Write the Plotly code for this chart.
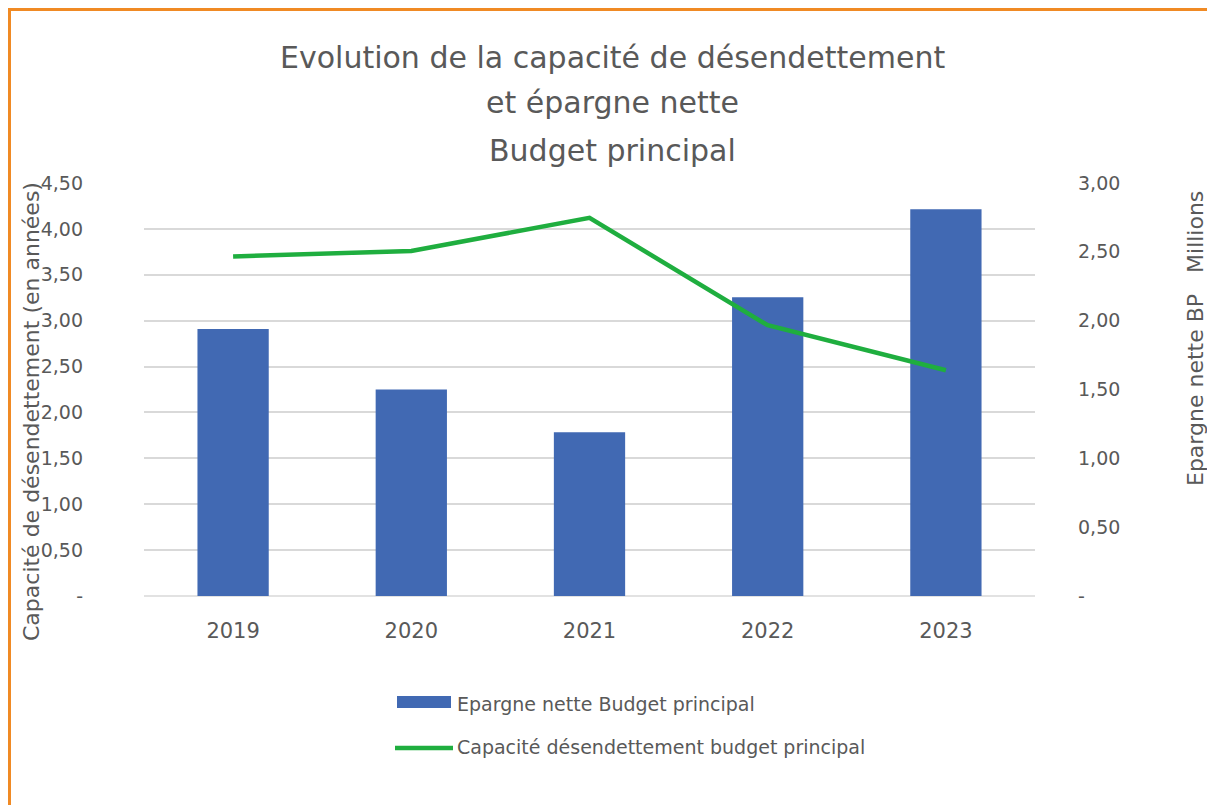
import plotly.graph_objects as go

years = ["2019", "2020", "2021", "2022", "2023"]
epargne_nette = [1.94, 1.50, 1.19, 2.17, 2.81]          # Millions (right axis)
capacite_desendettement = [3.70, 3.76, 4.12, 2.95, 2.46]  # years (left axis)

left_ticks = [0, 0.5, 1, 1.5, 2, 2.5, 3, 3.5, 4, 4.5]
left_labels = ["-", "0,50", "1,00", "1,50", "2,00", "2,50", "3,00", "3,50", "4,00", "4,50"]
right_ticks = [0, 0.5, 1, 1.5, 2, 2.5, 3]
right_labels = ["-", "0,50", "1,00", "1,50", "2,00", "2,50", "3,00"]

title_lines = ["Evolution de la capacité de désendettement", "et épargne nette", "Budget principal"]
bar_name = "Epargne nette Budget principal"
line_name = "Capacité désendettement budget principal"
left_title = "Capacité de désendettement (en années)"
right_title = "Epargne nette BP   Millions"

FONT = "'DejaVu Sans', sans-serif"
GRAY = "#595959"
BLUE = "#4169b3"
GREEN = "#1fae3f"
ORANGE = "#f08a24"

# figure size (page body adds an 8px offset)
W, H = 1207, 797
L, R, T, B = 136, 180, 175, 209
pw, ph = W - L - R, H - T - B


def px_x(p):
    return (p - L) / pw


def px_y(p):
    return (H - B - p) / ph


fig = go.Figure()
# bars on the primary (right-side) axis so the line on the overlaying axis is drawn on top
fig.add_trace(go.Bar(
    x=years, y=epargne_nette, name=bar_name,
    marker=dict(color=BLUE, line=dict(width=0)), width=0.4, yaxis="y",
    showlegend=False,
))
fig.add_trace(go.Scatter(
    x=years, y=capacite_desendettement, name=line_name,
    mode="lines", line=dict(color=GREEN, width=4.5), yaxis="y2",
    showlegend=False,
))

annotations = []
for txt, yy in zip(title_lines, [50, 95, 142]):
    annotations.append(dict(
        text=txt, xref="paper", yref="paper", x=px_x(604), y=px_y(yy),
        xanchor="center", yanchor="middle", showarrow=False,
        font=dict(family=FONT, size=30, color=GRAY),
    ))
annotations += [
    dict(text=left_title, xref="paper", yref="paper",
         x=px_x(23), y=px_y(404), textangle=-90, showarrow=False,
         xanchor="center", yanchor="middle", font=dict(size=22, color=GRAY)),
    dict(text=right_title, xref="paper", yref="paper",
         x=px_x(1187), y=px_y(331), textangle=-90, showarrow=False,
         xanchor="center", yanchor="middle", font=dict(size=22, color=GRAY)),
    dict(text=bar_name, xref="paper", yref="paper",
         x=px_x(447), y=px_y(696), xanchor="left", yanchor="middle",
         showarrow=False, font=dict(size=19, color=GRAY)),
    dict(text=line_name, xref="paper", yref="paper",
         x=px_x(447), y=px_y(739), xanchor="left", yanchor="middle",
         showarrow=False, font=dict(size=19, color=GRAY)),
]

fig.update_layout(
    width=W, height=H,
    margin=dict(l=L, r=R, t=T, b=B),
    paper_bgcolor="white", plot_bgcolor="white",
    font=dict(family=FONT, color=GRAY, size=19),
    xaxis=dict(
        showgrid=False, showline=False, ticks="",
        tickfont=dict(size=21, color=GRAY), ticklabelstandoff=20,
    ),
    yaxis=dict(
        range=[0, 3], tickvals=right_ticks, ticktext=right_labels,
        side="right", showgrid=False, zeroline=False,
        showline=False, ticks="", tickfont=dict(size=19, color=GRAY),
        ticklabelstandoff=42,
    ),
    yaxis2=dict(
        range=[0, 4.5], tickvals=left_ticks, ticktext=left_labels,
        overlaying="y", side="left",
        showgrid=True, gridcolor="#d9d9d9", gridwidth=1.5, zeroline=False,
        showline=False, ticks="", tickfont=dict(size=19, color=GRAY),
        ticklabelstandoff=60,
    ),
    showlegend=False,
    shapes=[
        dict(type="line", xref="paper", yref="paper", x0=px_x(0), x1=px_x(W),
             y0=px_y(1.5), y1=px_y(1.5), line=dict(color=ORANGE, width=3)),
        dict(type="line", xref="paper", yref="paper", x0=px_x(1.5), x1=px_x(1.5),
             y0=px_y(0), y1=px_y(H), line=dict(color=ORANGE, width=3)),
        dict(type="line", xref="paper", yref="paper", x0=0, x1=1,
             y0=0, y1=0, line=dict(color="#d9d9d9", width=1.5), layer="below"),
        # manual legend symbols
        dict(type="rect", xref="paper", yref="paper",
             x0=px_x(389), x1=px_x(443), y0=px_y(688), y1=px_y(700),
             fillcolor=BLUE, line=dict(width=0)),
        dict(type="line", xref="paper", yref="paper",
             x0=px_x(387), x1=px_x(445), y0=px_y(740), y1=px_y(740),
             line=dict(color=GREEN, width=4.5)),
    ],
    annotations=annotations,
)

fig.write_html("out.html")
